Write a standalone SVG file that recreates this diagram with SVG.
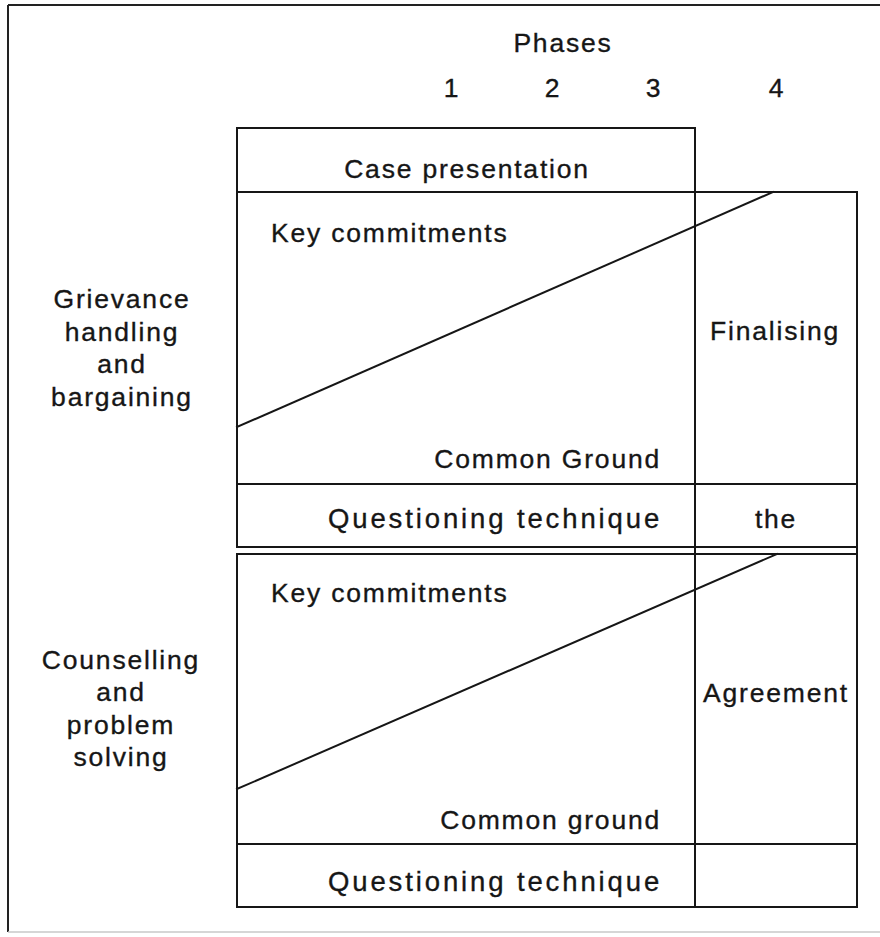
<svg xmlns="http://www.w3.org/2000/svg" width="880" height="937" viewBox="0 0 880 937">
  <style>
    .ln { stroke: #161616; stroke-width: 2; fill: none; stroke-linecap: square; }
    .frame { stroke: #222; stroke-width: 2; fill: none; }
    .faint { stroke: #c8c8c8; stroke-width: 1.5; fill: none; }
    text { font-family: "Liberation Sans", Arial, Helvetica, sans-serif; font-size: 26.5px; fill: #161616; stroke: #161616; stroke-width: 0.35; letter-spacing: 1.8px; }
    .c { text-anchor: middle; }
    .r { text-anchor: end; }
    .q { font-size: 27.5px; }
  </style>
  <rect width="880" height="937" fill="#ffffff"/>

  <!-- outer frame -->
  <g id="frame">
    <line class="frame" x1="8" y1="5" x2="880" y2="5"/>
    <line class="frame" x1="8" y1="5" x2="8" y2="932"/>
    <line class="faint" x1="8" y1="932" x2="880" y2="932"/>
  </g>

  <!-- column headings -->
  <g id="phases">
    <text class="c" x="563" y="52">Phases</text>
    <text class="c" x="452" y="97">1</text>
    <text class="c" x="553" y="97">2</text>
    <text class="c" x="654" y="97">3</text>
    <text class="c" x="777" y="97">4</text>
  </g>

  <!-- grid -->
  <g id="case-presentation">
    <rect class="ln" x="237" y="128" width="458" height="64"/>
    <text class="c" x="467" y="178">Case presentation</text>
  </g>

  <g id="grievance-block">
    <rect class="ln" x="237" y="192" width="458" height="292"/>
    <text x="271" y="242">Key commitments</text>
    <text class="r" x="661" y="468">Common Ground</text>
  </g>
  <g id="grievance-questioning">
    <rect class="ln" x="237" y="484" width="458" height="63"/>
    <text class="q" x="328" y="528" textLength="333" lengthAdjust="spacing">Questioning technique</text>
  </g>

  <g id="counselling-block">
    <rect class="ln" x="237" y="554" width="458" height="290"/>
    <text x="271" y="602">Key commitments</text>
    <text class="r" x="661" y="829">Common ground</text>
  </g>
  <g id="counselling-questioning">
    <rect class="ln" x="237" y="844" width="458" height="63"/>
    <text class="q" x="328" y="891" textLength="333" lengthAdjust="spacing">Questioning technique</text>
  </g>

  <g id="finalising-column">
    <rect class="ln" x="695" y="192" width="162" height="715"/>
    <line class="ln" x1="695" y1="484" x2="857" y2="484"/>
    <line class="ln" x1="695" y1="547" x2="857" y2="547"/>
    <line class="ln" x1="695" y1="554" x2="857" y2="554"/>
    <line class="ln" x1="695" y1="844" x2="857" y2="844"/>
    <text class="c" x="775" y="340">Finalising</text>
    <text class="c" x="776" y="528">the</text>
    <text class="c" x="776" y="702">Agreement</text>
  </g>

  <!-- row labels -->
  <g id="grievance-label">
    <text class="c" x="122" y="308">Grievance</text>
    <text class="c" x="122" y="341">handling</text>
    <text class="c" x="122" y="373">and</text>
    <text class="c" x="122" y="406">bargaining</text>
  </g>
  <g id="counselling-label">
    <text class="c" x="121" y="669">Counselling</text>
    <text class="c" x="121" y="701">and</text>
    <text class="c" x="121" y="734">problem</text>
    <text class="c" x="121" y="766">solving</text>
  </g>

  <!-- trend lines -->
  <g id="connectors">
    <line class="ln" x1="237" y1="427" x2="773" y2="192"/>
    <line class="ln" x1="237" y1="789" x2="777" y2="554"/>
  </g>
</svg>
